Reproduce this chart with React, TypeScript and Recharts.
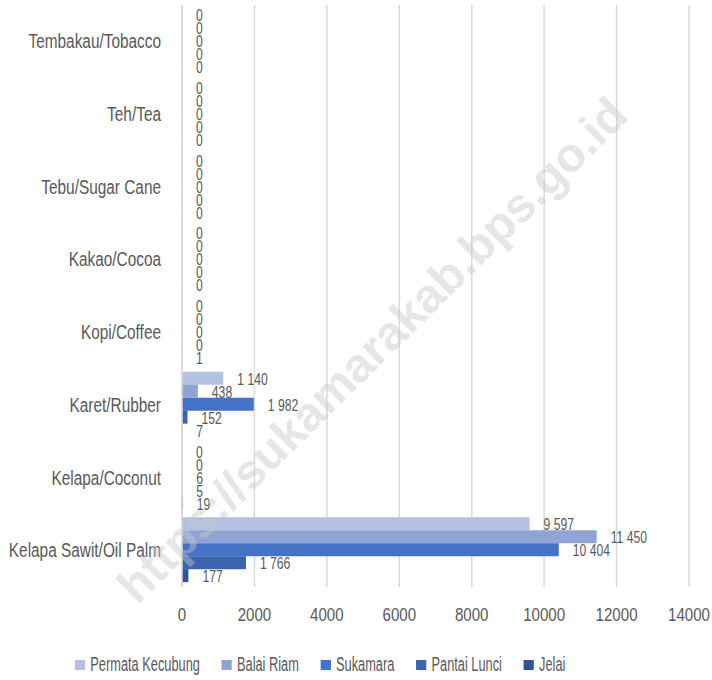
import React from "react";
import { BarChart, Bar, XAxis, YAxis, CartesianGrid, LabelList, Legend } from "recharts";

const categories = [
  "Tembakau/Tobacco",
  "Teh/Tea",
  "Tebu/Sugar Cane",
  "Kakao/Cocoa",
  "Kopi/Coffee",
  "Karet/Rubber",
  "Kelapa/Coconut",
  "Kelapa Sawit/Oil Palm",
];
const permataKecubung = [0, 0, 0, 0, 0, 1140, 0, 9597];
const balaiRiam = [0, 0, 0, 0, 0, 438, 0, 11450];
const sukamara = [0, 0, 0, 0, 0, 1982, 6, 10404];
const pantaiLunci = [0, 0, 0, 0, 0, 152, 5, 1766];
const jelai = [0, 0, 0, 0, 1, 7, 19, 177];
const xTicks = [0, 2000, 4000, 6000, 8000, 10000, 12000, 14000];

const series = [
  { key: "pk", name: "Permata Kecubung", color: "#B4C1E2", values: permataKecubung },
  { key: "br", name: "Balai Riam", color: "#8FA4D5", values: balaiRiam },
  { key: "sk", name: "Sukamara", color: "#4472C4", values: sukamara },
  { key: "pl", name: "Pantai Lunci", color: "#3A64AF", values: pantaiLunci },
  { key: "je", name: "Jelai", color: "#2F5597", values: jelai },
];

const data = categories.map((c, i) => {
  const row: any = { category: c };
  series.forEach((s) => (row[s.key] = s.values[i]));
  return row;
});

const FONT = "'Liberation Sans', Arial, sans-serif";
const GRAY = "#595959";

const fmt = (v: any) => String(v).replace(/\B(?=(\d{3})+(?!\d))/g, " ");

const YTick = (props: any) => {
  const { x, y, payload } = props;
  return (
    <text
      transform={`translate(${x},${y}) scale(0.77,1)`}
      textAnchor="end"
      dominantBaseline="central"
      fill={GRAY}
      fontSize={20}
      fontFamily={FONT}
    >
      {payload.value}
    </text>
  );
};

const XTick = (props: any) => {
  const { x, y, payload } = props;
  return (
    <text
      transform={`translate(${x},${y + 10}) scale(0.84,1)`}
      textAnchor="middle"
      dominantBaseline="central"
      fill={GRAY}
      fontSize={18}
      fontFamily={FONT}
    >
      {payload.value}
    </text>
  );
};

const ValueLabel = (props: any) => {
  const { x, y, width, height, value } = props;
  if (value === undefined || value === null) return null;
  const tx = Number(x) + Math.max(Number(width || 0), 0) + 14;
  const ty = Number(y) + Number(height || 0) / 2 + 1;
  return (
    <text
      transform={`translate(${tx},${ty}) scale(0.76,1)`}
      textAnchor="start"
      dominantBaseline="central"
      fill={GRAY}
      fontSize={16}
      fontFamily={FONT}
    >
      {fmt(value)}
    </text>
  );
};

const LegendContent = () => (
  <div style={{ width: 640, display: "flex", justifyContent: "center" }}>
    <div
      style={{
        display: "flex",
        transform: "scaleX(0.64)",
        transformOrigin: "center",
        fontFamily: FONT,
        fontSize: 20,
        color: GRAY,
        whiteSpace: "nowrap",
      }}
    >
      {series.map((s, i) => (
        <div key={s.key} style={{ display: "flex", alignItems: "center", marginLeft: i === 0 ? 0 : 34 }}>
          <span style={{ width: 16, height: 10, background: s.color, display: "inline-block", marginRight: 8 }} />
          <span>{s.name}</span>
        </div>
      ))}
    </div>
  </div>
);

export default function App() {
  return (
    <div style={{ position: "absolute", left: 0, top: 0, width: 712, height: 680, background: "#fff", overflow: "hidden" }}>
      <BarChart
        width={712}
        height={680}
        data={data}
        layout="vertical"
        margin={{ top: 5, right: 23, left: 0, bottom: 63 }}
        barCategoryGap="4%"
        barGap={0}
      >
        <CartesianGrid horizontal={false} stroke="#D9D9D9" strokeWidth={1.5} />
        <XAxis
          type="number"
          domain={[0, 14000]}
          ticks={xTicks}
          height={30}
          axisLine={false}
          tickLine={false}
          tickMargin={12}
          tick={<XTick />}
          interval={0}
        />
        <YAxis
          type="category"
          dataKey="category"
          width={182}
          axisLine={{ stroke: "#D9D9D9", strokeWidth: 1.5 }}
          tickLine={false}
          tickMargin={15}
          tick={<YTick />}
          interval={0}
        />
        <Legend
          layout="horizontal"
          verticalAlign="middle"
          align="center"
          content={<LegendContent />}
          wrapperStyle={{ top: 653, left: 0, width: 640 }}
        />
        {series.map((s) => (
          <Bar key={s.key} dataKey={s.key} name={s.name} fill={s.color} minPointSize={0.01} isAnimationActive={false}>
            <LabelList dataKey={s.key} content={<ValueLabel />} />
          </Bar>
        ))}
      </BarChart>
      <div
        style={{
          position: "absolute",
          left: 372,
          top: 350,
          transform: "translate(-50%, -50%) rotate(-44.7deg)",
          whiteSpace: "nowrap",
          fontFamily: "'Liberation Sans', Arial, sans-serif",
          fontWeight: "bold",
          fontSize: 48,
          color: "rgba(200,200,200,0.45)",
          pointerEvents: "none",
        }}
      >
        https://sukamarakab.bps.go.id
      </div>
    </div>
  );
}
